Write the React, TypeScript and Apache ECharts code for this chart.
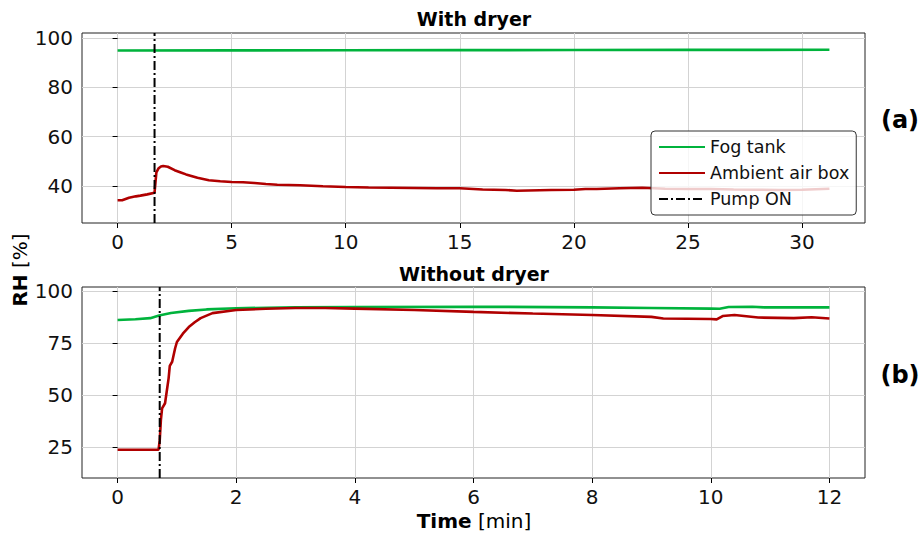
import React, { useEffect, useRef } from "react";
import * as echarts from "echarts";

// ---- Data ----
const topFogTime = [0, 5, 10, 15, 20, 25, 31.2];
const topFogRH = [94.9, 94.95, 95.0, 95.05, 95.1, 95.15, 95.2];

const topAmbTime = [
  0, 0.2, 0.5, 0.8, 1.0, 1.3, 1.62, 1.66, 1.7, 1.8, 1.9, 2.0, 2.2, 2.5, 2.8, 3.0, 3.5, 4.0, 4.5, 5.0,
  5.5, 6.0, 6.5, 7.0, 8.0, 9.0, 10.0, 11.0, 12.0, 13.0, 14.0, 15.0, 16.0, 17.0, 17.5, 18.5, 19.0,
  20.0, 20.5, 21.0, 22.0, 23.0, 24.0, 25.0, 26.0, 27.0, 28.0, 29.0, 30.0, 31.2,
];
const topAmbRH = [
  34.2, 34.2, 35.2, 35.8, 36.1, 36.6, 37.3, 41.5, 45.5, 47.2, 47.9, 48.1, 47.8, 46.4, 45.4, 44.7, 43.3,
  42.3, 41.9, 41.6, 41.5, 41.2, 40.8, 40.5, 40.3, 39.9, 39.6, 39.4, 39.3, 39.2, 39.1, 39.1, 38.6, 38.4,
  38.1, 38.3, 38.4, 38.5, 38.8, 38.8, 39.1, 39.3, 38.9, 38.8, 38.8, 38.6, 38.5, 38.4, 38.5, 38.9,
];

const botFogTime = [0, 0.3, 0.55, 0.7, 0.9, 1.2, 1.5, 2.0, 3.0, 4.0, 6.0, 8.0, 9.0, 10.0, 10.15, 10.3, 10.7, 10.9, 12.0];
const botFogRH = [86.1, 86.5, 87.0, 88.3, 89.5, 90.5, 91.2, 91.8, 92.2, 92.4, 92.5, 92.2, 91.9, 91.6, 91.5, 92.4, 92.5, 92.2, 92.2];

const botAmbTime = [
  0, 0.3, 0.69, 0.71, 0.73, 0.75, 0.8, 0.83, 0.86, 0.88, 0.92, 0.97, 1.0, 1.1, 1.2, 1.3, 1.4, 1.6, 2.0,
  2.5, 3.0, 3.5, 4.0, 5.0, 6.0, 7.0, 8.0, 9.0, 9.2, 10.0, 10.1, 10.2, 10.4, 10.8, 11.4, 11.7, 12.0,
];
const botAmbRH = [
  23.6, 23.6, 23.6, 28, 38, 43.5, 46, 52, 58, 64, 66, 72.5, 75.5, 79.5, 82.7, 85, 87, 89.4, 90.9,
  91.5, 91.9, 91.9, 91.6, 90.9, 90.0, 89.2, 88.5, 87.6, 86.8, 86.6, 86.4, 88.0, 88.5, 87.3, 87.0, 87.4, 86.8,
];

const pumpOnTime = [1.62, 0.71]; // top, bottom

const topXTicks = [0, 5, 10, 15, 20, 25, 30];
const topYTicks = [40, 60, 80, 100];
const botXTicks = [0, 2, 4, 6, 8, 10, 12];
const botYTicks = [25, 50, 75, 100];

const panelTitles = ["With dryer", "Without dryer"];
const panelTags = ["(a)", "(b)"];
const seriesNames = ["Fog tank", "Ambient air box", "Pump ON"];

// ---- Styles ----
const FONT = "DejaVu Sans";
const GREEN = "#00b33c";
const RED = "#b00000";
const GRIDC = "#d3d3d3";

const zip = (t: number[], v: number[]) => t.map((x, i) => [x, v[i]]);

export default function App() {
  const ref = useRef<HTMLDivElement>(null);
  useEffect(() => {
    if (!ref.current) return;
    const chart = echarts.init(ref.current, null, { renderer: "svg" });

    const topY = [25, 102];
    const botY = [10, 102];

    const axisBase = (gridIndex: number, min: number, max: number, ticks: number[]) => ({
      type: "value",
      gridIndex,
      min,
      max,
      axisLine: { show: false },
      axisTick: { show: true, length: 5, inside: false, lineStyle: { color: "#000" }, customValues: ticks },
      axisLabel: { customValues: ticks, fontSize: 20, color: "#111", fontFamily: FONT, margin: 9 },
      splitLine: { show: true, lineStyle: { color: GRIDC, width: 1 } },
    });

    const lineSeries = (name: string, data: number[][], idx: number, color: string) => ({
      name,
      type: "line",
      xAxisIndex: idx,
      yAxisIndex: idx,
      data,
      symbol: "none",
      showSymbol: false,
      lineStyle: { color, width: 2.6 },
      itemStyle: { color },
      z: 2,
    });
    const pumpSeries = (idx: number, t: number, yr: number[]) => ({
      name: seriesNames[2],
      type: "line",
      xAxisIndex: idx,
      yAxisIndex: idx,
      data: [
        [t, yr[0]],
        [t, yr[1]],
      ],
      symbol: "none",
      showSymbol: false,
      lineStyle: { color: "#000", width: 2, type: [9, 3, 2, 3] },
      itemStyle: { color: "#000" },
      z: 3,
    });

    chart.setOption({
      animation: false,
      backgroundColor: "#fff",
      grid: [
        { left: 82, right: 56, top: 33, height: 190, show: true, borderColor: "#222", borderWidth: 1, backgroundColor: "transparent" },
        { left: 82, right: 56, top: 287, height: 191, show: true, borderColor: "#222", borderWidth: 1, backgroundColor: "transparent" },
      ],
      xAxis: [axisBase(0, -1.56, 32.76, topXTicks), axisBase(1, -0.6, 12.6, botXTicks)],
      yAxis: [axisBase(0, topY[0], topY[1], topYTicks), axisBase(1, botY[0], botY[1], botYTicks)],
      legend: {
        data: seriesNames,
        orient: "vertical",
        left: 651,
        top: 131,
        padding: [6, 7, 6, 7],
        itemGap: 6,
        itemWidth: 46,
        itemHeight: 14,
        itemStyle: { opacity: 0 },
        backgroundColor: "rgba(255,255,255,0.8)",
        borderColor: "#333",
        borderWidth: 1,
        borderRadius: 4,
        textStyle: { fontSize: 17.5, color: "#111", fontFamily: FONT, lineHeight: 20 },
        z: 10,
      },
      series: [
        lineSeries(seriesNames[0], zip(topFogTime, topFogRH), 0, GREEN),
        lineSeries(seriesNames[1], zip(topAmbTime, topAmbRH), 0, RED),
        pumpSeries(0, pumpOnTime[0], topY),
        lineSeries(seriesNames[0], zip(botFogTime, botFogRH), 1, GREEN),
        lineSeries(seriesNames[1], zip(botAmbTime, botAmbRH), 1, RED),
        pumpSeries(1, pumpOnTime[1], botY),
      ],
      graphic: [
        { type: "text", x: 474, y: 19, style: { text: panelTitles[0], font: `bold 19px "${FONT}"`, fill: "#000", align: "center", verticalAlign: "middle" } },
        { type: "text", x: 474, y: 274, style: { text: panelTitles[1], font: `bold 19px "${FONT}"`, fill: "#000", align: "center", verticalAlign: "middle" } },
        { type: "text", x: 900, y: 120, style: { text: panelTags[0], font: `bold 24px "${FONT}"`, fill: "#000", align: "center", verticalAlign: "middle" } },
        { type: "text", x: 900, y: 375, style: { text: panelTags[1], font: `bold 24px "${FONT}"`, fill: "#000", align: "center", verticalAlign: "middle" } },
        {
          type: "text",
          x: 474,
          y: 521,
          style: {
            text: "{b|Time}{n| [min]}",
            align: "center",
            verticalAlign: "middle",
            rich: {
              b: { font: `bold 20px "${FONT}"`, fill: "#000" },
              n: { font: `20px "${FONT}"`, fill: "#000" },
            },
          },
        },
        {
          type: "text",
          x: 20,
          y: 270,
          rotation: Math.PI / 2,
          style: {
            text: "{b|RH}{n| [%]}",
            align: "center",
            verticalAlign: "middle",
            rich: {
              b: { font: `bold 20px "${FONT}"`, fill: "#000" },
              n: { font: `20px "${FONT}"`, fill: "#000" },
            },
          },
        },
      ],
    });
    return () => chart.dispose();
  }, []);
  return <div ref={ref} style={{ width: 921, height: 534, position: "absolute", left: 0, top: 0 }} />;
}
